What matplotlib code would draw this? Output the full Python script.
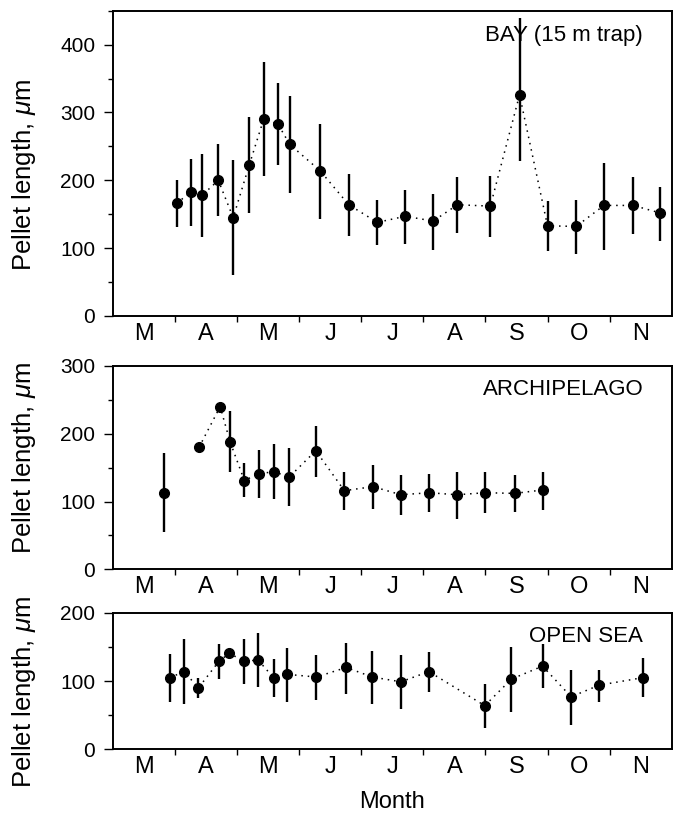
import numpy as np
import matplotlib

matplotlib.use("Agg")
import matplotlib.pyplot as plt
from matplotlib.ticker import FixedLocator, MultipleLocator

plt.rcParams["font.family"] = ["Liberation Sans", "DejaVu Sans"]
plt.rcParams["mathtext.fontset"] = "custom"
plt.rcParams["mathtext.it"] = "Liberation Sans:italic"
plt.rcParams["mathtext.rm"] = "Liberation Sans"

# x positions are months counted from 1 March (0 = 1 Mar, 9 = 1 Dec)
month_labels = ["M", "A", "M", "J", "J", "A", "S", "O", "N"]

bay_x = [1.03, 1.26, 1.44, 1.70, 1.94, 2.20, 2.43, 2.66, 2.85, 3.34, 3.80,
         4.26, 4.71, 5.16, 5.55, 6.08, 6.55, 7.00, 7.46, 7.91, 8.38, 8.81]
bay_mean = [166, 183, 178, 200, 145, 223, 290, 283, 253, 214, 164,
            138, 147, 140, 164, 162, 326, 133, 132, 163, 163, 152]
bay_low = [131, 133, 116, 147, 61, 152, 206, 222, 182, 143, 118,
           104, 106, 97, 123, 117, 228, 96, 92, 97, 121, 111]
bay_high = [201, 231, 239, 253, 230, 294, 374, 344, 324, 283, 209,
            171, 186, 180, 205, 206, 440, 169, 171, 225, 205, 190]

arch_x = [0.83, 1.39, 1.73, 1.89, 2.12, 2.35, 2.60, 2.84, 3.27, 3.73, 4.19,
          4.64, 5.10, 5.54, 6.00, 6.47, 6.92]
arch_mean = [113, 180, 240, 188, 131, 141, 144, 136, 175, 116, 122,
             110, 113, 110, 113, 112, 117]
arch_low = [55, np.nan, np.nan, 143, 107, 105, 104, 93, 136, 88, 89,
            80, 85, 74, 83, 85, 88]
arch_high = [172, np.nan, np.nan, 233, 157, 176, 185, 179, 211, 144, 154,
             139, 140, 144, 143, 139, 144]

sea_x = [0.92, 1.15, 1.38, 1.71, 1.88, 2.11, 2.34, 2.59, 2.80, 3.28, 3.76,
         4.18, 4.64, 5.09, 5.99, 6.42, 6.92, 7.38, 7.83, 8.53]
sea_mean = [105, 114, 90, 129, 141, 129, 131, 105, 110, 106, 120,
            106, 99, 114, 64, 103, 122, 77, 94, 105]
sea_low = [69, 66, 75, 103, np.nan, 96, 91, 77, 69, 73, 81,
           66, 59, 84, 31, 55, 90, 36, 69, 76]
sea_high = [140, 162, 104, 155, np.nan, 162, 170, 132, 149, 138, 156,
            144, 138, 142, 96, 150, 155, 117, 117, 134]


def draw_panel(ax, x, mean, low, high, line_from, ymax, title, title_y, label_y):
    x = np.asarray(x)
    mean = np.asarray(mean, dtype=float)
    low = np.asarray(low, dtype=float)
    high = np.asarray(high, dtype=float)

    ax.plot(x[line_from:], mean[line_from:], color="black",
            linestyle=(0, (1, 3.2)), linewidth=1.1, zorder=1)
    has_err = ~np.isnan(low)
    ax.vlines(x[has_err], low[has_err], high[has_err],
              color="black", linewidth=1.7, zorder=2)
    ax.plot(x, mean, "o", color="black", markersize=7, zorder=3)

    ax.set_xlim(0, 9)
    ax.set_ylim(0, ymax)
    ax.xaxis.set_major_locator(FixedLocator(np.arange(9) + 0.5))
    ax.xaxis.set_minor_locator(FixedLocator(np.arange(1, 9)))
    ax.set_xticklabels(month_labels, fontsize=17)
    ax.tick_params(axis="x", which="major", length=0, pad=5)
    ax.tick_params(axis="x", which="minor", direction="out", length=4.5, width=1)

    ax.yaxis.set_major_locator(MultipleLocator(100))
    ax.yaxis.set_minor_locator(MultipleLocator(50))
    ax.tick_params(axis="y", which="major", direction="out", length=6.5,
                   width=1, labelsize=15, pad=6)
    ax.tick_params(axis="y", which="minor", direction="out", length=3.5, width=1)

    for spine in ax.spines.values():
        spine.set_linewidth(1.4)

    ax.set_ylabel(r"Pellet length, $\mathit{\mu}$m", fontsize=18.5)
    ax.yaxis.set_label_coords(-0.134, label_y)
    ax.text(0.949, title_y, title, transform=ax.transAxes, ha="right",
            va="center", fontsize=16)


fig = plt.figure(figsize=(6.76, 8.14), dpi=100)
ax_bay = fig.add_axes([0.1667, 0.6118, 0.827, 0.375])
ax_arch = fig.add_axes([0.1667, 0.3006, 0.827, 0.2498])
ax_sea = fig.add_axes([0.1667, 0.0795, 0.827, 0.1675])

draw_panel(ax_bay, bay_x, bay_mean, bay_low, bay_high, 0, 450,
           "BAY (15 m trap)", 0.920, 0.463)
draw_panel(ax_arch, arch_x, arch_mean, arch_low, arch_high, 1, 300,
           "ARCHIPELAGO", 0.882, 0.547)
draw_panel(ax_sea, sea_x, sea_mean, sea_low, sea_high, 0, 200,
           "OPEN SEA", 0.824, 0.42)

ax_sea.set_xlabel("Month", fontsize=17, labelpad=9)

fig.savefig("out.png", dpi=100)
